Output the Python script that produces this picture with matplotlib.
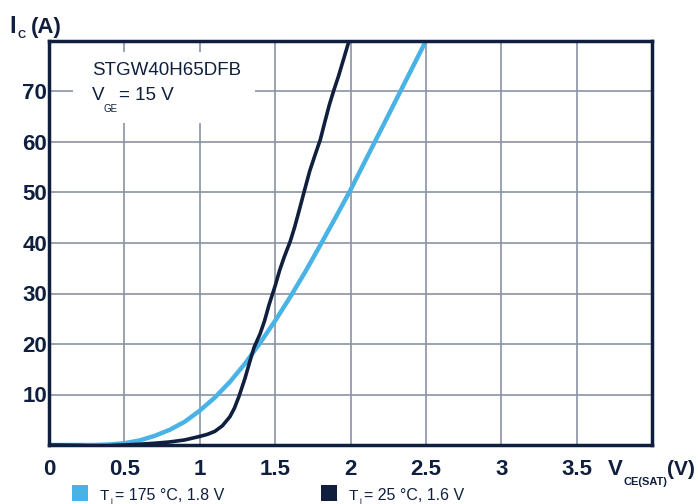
import numpy as np
import matplotlib
matplotlib.use("Agg")
import matplotlib.pyplot as plt

# output characteristic, STGW40H65DFB, VGE = 15 V
v_hot = [0, 0.2, 0.3, 0.4, 0.5, 0.6, 0.7, 0.8, 0.9, 1.0, 1.1, 1.2, 1.3, 1.4,
         1.5, 1.6, 1.7, 1.8, 1.9, 2.0, 2.1, 2.2, 2.3, 2.4, 2.5]
i_hot = [0, 0, 0, 0.1, 0.35, 0.9, 1.8, 3.0, 4.6, 6.8, 9.4, 12.5, 16.1, 20.2,
         24.6, 29.3, 34.3, 39.6, 45.0, 50.5, 56.4, 62.3, 68.2, 74.1, 80]

v_cold = [0, 0.2, 0.3, 0.4, 0.5, 0.6, 0.7, 0.8, 0.9, 1.0, 1.05, 1.1, 1.15,
          1.2, 1.23, 1.26, 1.3, 1.33, 1.36, 1.4, 1.43, 1.46, 1.5, 1.53, 1.56,
          1.6, 1.63, 1.66, 1.7, 1.73, 1.76, 1.8, 1.83, 1.86, 1.89, 1.92, 1.96, 1.99]
i_cold = [0, -0.1, -0.2, -0.15, 0, 0.15, 0.35, 0.6, 1.0, 1.7, 2.1, 2.7, 3.8,
          5.6, 7.3, 9.6, 13.2, 16.3, 19.3, 22.0, 24.6, 27.8, 31.5, 34.6, 37.2,
          40.3, 43.2, 46.5, 51.0, 54.3, 57.0, 60.5, 64.0, 67.4, 70.3, 73.0, 77.0, 80]

x_ticks = [0, 0.5, 1, 1.5, 2, 2.5, 3, 3.5]
x_labels = ["0", "0.5", "1", "1.5", "2", "2.5", "3", "3.5"]
y_ticks = [10, 20, 30, 40, 50, 60, 70]
legend_temps = ["175 °C, 1.8 V", "25 °C, 1.6 V"]

navy = "#0f1f3d"
blue = "#4ab3e6"
gridc = "#8a92a6"

plt.rcParams["font.family"] = ["Liberation Sans", "DejaVu Sans"]

W, H = 698, 504
fig = plt.figure(figsize=(W / 100, H / 100), dpi=100)
ax = fig.add_axes([49 / W, 1 - 445 / H, 603 / W, 404 / H])


def txt(x, y, s, size, bold=False, **kw):
    # place text by pixel position (y from top, baseline)
    return fig.text(x / W, 1 - y / H, s, fontsize=size, color=navy,
                    fontweight="bold" if bold else "normal", va="baseline", **kw)


ax.plot(v_hot, i_hot, color=blue, lw=3.2, solid_joinstyle="round", zorder=3)
ax.plot(v_cold, i_cold, color=navy, lw=2.6, solid_joinstyle="round", zorder=4)

ax.set_xlim(0, 4.0)
ax.set_ylim(0, 80)
ax.set_xticks(np.arange(0.5, 4.0, 0.5))
ax.set_yticks(y_ticks)
ax.set_xticklabels([])
ax.grid(True, color=gridc, lw=1.2)
ax.set_axisbelow(True)
ax.tick_params(length=0, labelsize=16, colors=navy, pad=1.5)
for lbl in ax.get_yticklabels():
    lbl.set_fontweight("bold")
for sp in ax.spines.values():
    sp.set_color(navy)
    sp.set_linewidth(2.5)
    sp.set_zorder(5)

# x tick labels placed manually so "0" sits under the origin
for xv, xl in zip(x_ticks, x_labels):
    ax.annotate(xl, (xv, 0), xycoords="data", xytext=(0, -30 * 0.72),
                textcoords="offset points", ha="center", va="baseline",
                fontsize=16, fontweight="bold", color=navy, annotation_clip=False)

# white box hiding the grid behind the part number
fig.patches.append(plt.Rectangle((73 / W, 1 - 123 / H), 182 / W, 71 / H,
                                 transform=fig.transFigure, facecolor="white",
                                 edgecolor="none", zorder=2))
txt(92, 75, "STGW40H65DFB", 13.5, zorder=6)
txt(92, 100, "V", 13.5, zorder=6)
txt(103, 112, "GE", 7, zorder=6)
txt(119, 100, "= 15 V", 13.5, zorder=6)

# axis titles
txt(9, 33, "I", 17, bold=True)
txt(17, 38, "C", 8, bold=True)
txt(31, 33, "(A)", 16, bold=True)
txt(608, 475, "V", 16, bold=True)
txt(623, 485, "CE(SAT)", 8, bold=True)
txt(667, 475, "(V)", 15, bold=True)

# legend
for x0, col, t in [(72, blue, legend_temps[0]), (321, navy, legend_temps[1])]:
    fig.patches.append(plt.Rectangle((x0 / W, 1 - 501 / H), 16 / W, 16 / H,
                                     transform=fig.transFigure, facecolor=col,
                                     edgecolor="none"))
    txt(x0 + 28, 500, "T", 11)
    txt(x0 + 38, 503, "j", 6)
    txt(x0 + 43, 500, "= " + t, 11.5)

fig.savefig("out.png", dpi=100)
